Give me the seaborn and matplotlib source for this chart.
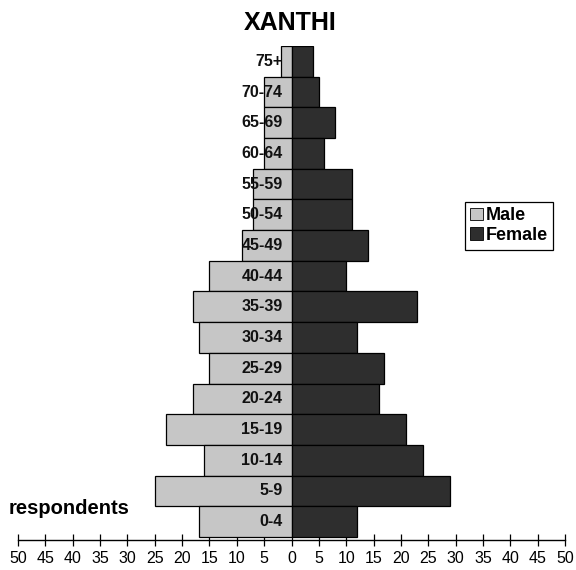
import numpy as np
import pandas as pd
import matplotlib
matplotlib.use("Agg")
import matplotlib.pyplot as plt
from matplotlib.patches import Patch
import seaborn as sns

# age groups, youngest first
ages = ["0-4", "5-9", "10-14", "15-19", "20-24", "25-29", "30-34", "35-39",
        "40-44", "45-49", "50-54", "55-59", "60-64", "65-69", "70-74", "75+"]
male = [17, 25, 16, 23, 18, 15, 17, 18, 15, 9, 7, 7, 5, 5, 5, 2]
female = [12, 29, 24, 21, 16, 17, 12, 23, 10, 14, 11, 11, 6, 8, 5, 4]
xticks = list(range(-50, 55, 5))

MALE_COL = "#c6c6c6"
FEMALE_COL = "#2e2e2e"

df = pd.DataFrame({
    "age": ages * 2,
    "sex": ["Male"] * len(ages) + ["Female"] * len(ages),
    "value": [-m for m in male] + female,
})

sns.set_style("white")
plt.rcParams["font.family"] = ["Liberation Sans", "DejaVu Sans"]
plt.rcParams["text.color"] = "black"
plt.rcParams["xtick.color"] = "black"

fig = plt.figure(figsize=(5.76, 5.70), dpi=100)
ax = fig.add_axes([18 / 576, 30 / 570, 547 / 576, 494 / 570])

order = ages[::-1]  # 75+ on top
sns.barplot(data=df, x="value", y="age", hue="sex", order=order,
            hue_order=["Male", "Female"],
            palette={"Male": MALE_COL, "Female": FEMALE_COL},
            dodge=False, width=1.0, orient="h", errorbar=None,
            edgecolor="black", linewidth=0.9, legend=False, ax=ax)

ax.set_xlim(-50, 50)
ax.set_ylim(len(ages) - 0.4, -0.5)
ax.set_xticks(xticks)
ax.set_xticklabels([str(abs(t)) for t in xticks], fontsize=11.5)
ax.tick_params(axis="x", direction="inout", length=8, width=0.9, pad=4,
               bottom=True, color="black", labelcolor="black")
ax.set_yticks([])
ax.set_xlabel("")
ax.set_ylabel("")
for s in ["left", "top", "right"]:
    ax.spines[s].set_visible(False)
ax.spines["bottom"].set_linewidth(1.0)
ax.spines["bottom"].set_color("black")

# age labels inside the bars, next to zero
for i, a in enumerate(order):
    ax.text(-1.6, i, a, ha="right", va="center", fontsize=11.5,
            fontweight="bold", color="#111111")

fig.text(290 / 576, 1 - 23 / 570, "XANTHI", ha="center", va="center",
         fontsize=18, fontweight="bold")
fig.text(9 / 576, 1 - 508 / 570, "respondents", ha="left", va="center",
         fontsize=14.5, fontweight="bold")

handles = [Patch(facecolor=MALE_COL, edgecolor="black", linewidth=0.6, label="Male"),
           Patch(facecolor=FEMALE_COL, edgecolor="black", linewidth=0.6, label="Female")]
leg = fig.legend(handles=handles, loc="upper right",
                 bbox_to_anchor=(553 / 576, 1 - 202 / 570),
                 prop={"weight": "bold", "size": 13},
                 handlelength=0.7, handleheight=0.7, handletextpad=0.15,
                 labelspacing=0.15, borderpad=0.3, borderaxespad=0,
                 fancybox=False, framealpha=1)
leg.get_frame().set_edgecolor("black")
leg.get_frame().set_linewidth(0.9)

fig.savefig("out.png", dpi=100)
